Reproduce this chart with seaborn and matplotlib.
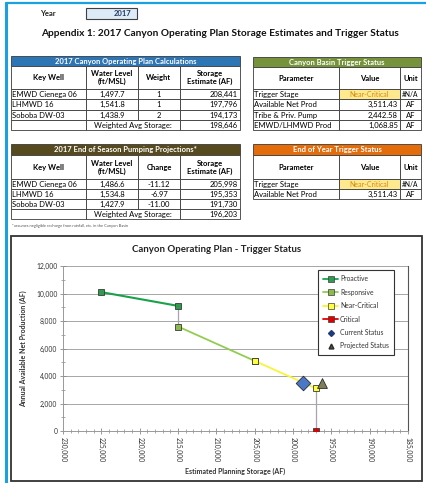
import matplotlib
matplotlib.use("Agg")
import matplotlib.pyplot as plt
import seaborn as sns
import pandas as pd
from matplotlib.patches import Rectangle
from matplotlib.lines import Line2D
from matplotlib.ticker import MultipleLocator, FixedLocator

# ---------------- data ----------------
year = "2017"
title_text = "Appendix 1: 2017 Canyon Operating Plan Storage Estimates and Trigger Status"

calc_wells = ["EMWD Cienega 06", "LHMWD 16", "Soboba DW-03"]
calc_levels = ["1,497.7", "1,541.8", "1,438.9"]
calc_weights = ["1", "1", "2"]
calc_storage = ["208,441", "197,796", "194,173"]
calc_avg = "198,646"

proj_levels = ["1,486.6", "1,534.8", "1,427.9"]
proj_change = ["-11.12", "-6.97", "-11.00"]
proj_storage = ["205,998", "195,353", "191,730"]
proj_avg = "196,203"

basin_params = ["Trigger Stage", "Available Net Prod", "Tribe & Priv. Pump", "EMWD/LHMWD Prod"]
basin_values = ["Near-Critical", "3,511.43", "2,442.58", "1,068.85"]
basin_units = ["#N/A", "AF", "AF", "AF"]

eoy_params = ["Trigger Stage", "Available Net Prod"]
eoy_values = ["Near-Critical", "3,511.43"]
eoy_units = ["#N/A", "AF"]

stages = ["Proactive", "Responsive", "Near-Critical", "Critical"]
stage_storage = [[225000, 215000], [215000, 205000], [205000, 197000], [197000]]
stage_production = [[10100, 9100], [7600, 5100], [5100, 3100], [0]]
connector_storage = [[215000, 215000], [197000, 197000]]
connector_production = [[9100, 7600], [3100, 0]]
current_storage = [198646]
current_production = [3511.43]
projected_storage = [196203]
projected_production = [3511.43]

x_ticks = [230000, 225000, 220000, 215000, 210000, 205000, 200000, 195000, 190000, 185000]
y_ticks = [0, 2000, 4000, 6000, 8000, 10000, 12000]
x_tick_labels = [f"{v:,}" for v in x_ticks]
y_tick_labels = [f"{v:,}" for v in y_ticks]

# ---------------- style ----------------
sns.set_theme(style="white")
plt.rcParams["font.family"] = ["Lato", "DejaVu Sans"]

W, H = 427, 483
fig = plt.figure(figsize=(W / 100, H / 100), dpi=100)
fig.patch.set_facecolor("white")

cv = fig.add_axes([0, 0, 1, 1])
cv.set_xlim(0, W)
cv.set_ylim(H, 0)
cv.axis("off")

BLUE = "#1BA1E2"
EDGE = "#3a3a3a"
FS = 5.5

# outer border
cv.add_line(Line2D([6, 6], [3, H], color=BLUE, lw=2.2))
cv.add_line(Line2D([6, W], [3, 3], color=BLUE, lw=1.6))

# Year box
cv.text(40, 13, "Year", fontsize=5.5, fontweight="bold", va="center", ha="left", color="#222222")
cv.add_patch(Rectangle((86, 7.5), 51, 11, facecolor="#DDEBF7", edgecolor="#404040", lw=0.8))
cv.text(131, 13, year, fontsize=5.5, fontweight="bold", va="center", ha="right", color="#1F3864")

cv.text(220, 33, title_text, fontsize=7.3, fontweight="bold", ha="center", va="center", color="#111111")


def cell(x0, x1, y0, y1, text="", ha="center", fill="white", color="black", bold=False, fs=FS):
    cv.add_patch(Rectangle((x0, y0), x1 - x0, y1 - y0, facecolor=fill, edgecolor=EDGE, lw=0.6))
    if text:
        if ha == "center":
            tx = (x0 + x1) / 2
        elif ha == "left":
            tx = x0 + 1.2
        else:
            tx = x1 - 2
        cv.text(tx, (y0 + y1) / 2 + 0.3, text, fontsize=fs, ha=ha, va="center", color=color,
                fontweight="bold" if bold else "normal", linespacing=1.15)


def draw_table(xs, ys, title, hcolor, headers, rows, aligns, avg=None):
    cv.add_patch(Rectangle((xs[0], ys[0]), xs[-1] - xs[0], ys[1] - ys[0], facecolor=hcolor,
                           edgecolor=EDGE, lw=0.6))
    cv.text((xs[0] + xs[-1]) / 2, (ys[0] + ys[1]) / 2 + 0.3, title, fontsize=FS, color="white",
            fontweight="bold", ha="center", va="center")
    for j, h in enumerate(headers):
        cell(xs[j], xs[j + 1], ys[1], ys[2], h, bold=True)
    for i, row in enumerate(rows):
        for j, v in enumerate(row):
            fill = "white"
            color = "black"
            fs = FS
            ha = aligns[j]
            if v == "Near-Critical":
                fill = "#FFE98F"
                color = "#D98B10"
                fs = 5.0
                ha = "center"
            if v == "#N/A":
                fs = 4.8
            cell(xs[j], xs[j + 1], ys[2 + i], ys[3 + i], v, ha=ha, fill=fill, color=color, fs=fs)
    if avg is not None:
        i = len(rows)
        cell(xs[0], xs[1], ys[2 + i], ys[3 + i])
        cell(xs[1], xs[3], ys[2 + i], ys[3 + i], "Weighted Avg Storage:")
        cell(xs[3], xs[4], ys[2 + i], ys[3 + i], avg, ha="right")


left_cols = [11, 86, 138, 180, 240]
right_cols = [253, 339, 400, 421]

draw_table(left_cols, [56, 66, 89, 99.3, 109.6, 119.9, 130.2],
           "2017 Canyon Operating Plan Calculations", "#2E75B6",
           ["Key Well", "Water Level\n(ft/MSL)", "Weight", "Storage\nEstimate (AF)"],
           [list(r) for r in zip(calc_wells, calc_levels, calc_weights, calc_storage)],
           ["left", "center", "center", "right"], avg=calc_avg)

draw_table(right_cols, [57, 67, 89, 99.3, 109.6, 119.9, 130.2],
           "Canyon Basin Trigger Status", "#76933C",
           ["Parameter", "Value", "Unit"],
           [list(r) for r in zip(basin_params, basin_values, basin_units)],
           ["left", "right", "center"])

draw_table(left_cols, [144, 155, 179, 189, 199, 209, 219],
           "2017 End of Season Pumping Projections*", "#574A1E",
           ["Key Well", "Water Level\n(ft/MSL)", "Change", "Storage\nEstimate (AF)"],
           [list(r) for r in zip(calc_wells, proj_levels, proj_change, proj_storage)],
           ["left", "center", "center", "right"], avg=proj_avg)

draw_table(right_cols, [144, 155, 179, 189, 199],
           "End of Year Trigger Status", "#E46C0A",
           ["Parameter", "Value", "Unit"],
           [list(r) for r in zip(eoy_params, eoy_values, eoy_units)],
           ["left", "right", "center"])

cv.text(12, 225.5, "*assumes negligible recharge from rainfall, etc. in the Canyon Basin",
        fontsize=2.9, color="#555555", ha="left", va="center")

# chart box
cv.add_patch(Rectangle((11, 236), 411, 245, facecolor="white", edgecolor="#333333", lw=1.3))

# ---------------- chart ----------------
ax = fig.add_axes([63 / W, (H - 431) / H, 345 / W, 165 / H])
ax.set_facecolor("white")

line_colors = ["#18A24A", "#92CC52", "#F7F53A", "#E00000"]
marker_colors = ["#2E9B4E", "#8DBA4C", "#FFFF40", "#E00000"]
line_widths = [1.5, 1.3, 1.3, 1.3]

for xs_, ys_ in zip(connector_storage, connector_production):
    cdf = pd.DataFrame({"s": xs_, "p": ys_})
    sns.lineplot(data=cdf, x="s", y="p", ax=ax, color="#A7A3B5", lw=0.9, sort=False,
                 estimator=None, zorder=2)

for name, xs_, ys_, lc, mc, lw in zip(stages, stage_storage, stage_production, line_colors,
                                      marker_colors, line_widths):
    df = pd.DataFrame({"s": xs_, "p": ys_})
    sns.lineplot(data=df, x="s", y="p", ax=ax, color=lc, lw=lw, sort=False, estimator=None,
                 marker="s", markersize=5, markerfacecolor=mc, markeredgecolor="#3a3a3a",
                 markeredgewidth=0.6, zorder=3)

sns.scatterplot(x=current_storage, y=current_production, ax=ax, marker="D", s=55,
                color="#4A78C8", edgecolor="#2a2a2a", linewidth=0.6, zorder=5)
sns.scatterplot(x=projected_storage, y=projected_production, ax=ax, marker="^", s=50,
                color="#7E7E58", edgecolor="#2a2a2a", linewidth=0.6, zorder=5)

ax.set_xlim(230000, 185000)
ax.set_ylim(0, 12000)
ax.xaxis.set_major_locator(FixedLocator(x_ticks))
ax.set_xticklabels(x_tick_labels, rotation=270, fontsize=4.9, color="#333333")
ax.yaxis.set_major_locator(FixedLocator(y_ticks))
ax.set_yticklabels(y_tick_labels, fontsize=4.9, color="#333333")
ax.xaxis.set_minor_locator(MultipleLocator(1000))
ax.yaxis.set_minor_locator(MultipleLocator(1000))
ax.tick_params(axis="both", which="major", direction="inout", length=4, width=0.6,
               colors="#888888", labelcolor="#333333", pad=2)
ax.tick_params(axis="both", which="minor", direction="inout", length=2.5, width=0.5,
               colors="#888888")
ax.tick_params(axis="x", which="both", bottom=True)
ax.tick_params(axis="y", which="both", left=True)
ax.grid(axis="y", color="#A6A6A6", lw=0.7)
ax.grid(axis="x", visible=False)
for side in ["left", "bottom"]:
    ax.spines[side].set_color("#999999")
    ax.spines[side].set_linewidth(0.7)
for side in ["top", "right"]:
    ax.spines[side].set_color("#555555")
    ax.spines[side].set_linewidth(0.8)
ax.spines["top"].set_visible(False)

ax.set_xlabel("Estimated Planning Storage (AF)", fontsize=5.0, fontweight="bold", color="#333333")
ax.set_ylabel("Annual Available Net Production (AF)", fontsize=5.0, fontweight="bold",
              color="#333333")
ax.xaxis.set_label_coords(0.5, -0.225)
ax.yaxis.set_label_coords(-0.105, 0.5)
fig.text(217 / W, 1 - 250 / H, "Canyon Operating Plan - Trigger Status", fontsize=6.9,
         fontweight="bold", ha="center", va="center", color="#222222")

handles = []
for name, lc, mc in zip(stages, line_colors, marker_colors):
    handles.append(Line2D([], [], color=lc, lw=1.3, marker="s", markersize=4,
                          markerfacecolor=mc, markeredgecolor="#3a3a3a", markeredgewidth=0.5,
                          label=name))
handles.append(Line2D([], [], color="none", marker="D", markersize=3, markerfacecolor="#1F3A7A",
                      markeredgecolor="#1F3A7A", label="Current Status"))
handles.append(Line2D([], [], color="none", marker="^", markersize=3.5, markerfacecolor="#55553A",
                      markeredgecolor="#2a2a2a", label="Projected Status"))
leg = ax.legend(handles=handles, loc="upper left", bbox_to_anchor=(318 / W, 1 - 270 / H),
                bbox_transform=fig.transFigure, borderaxespad=0, fontsize=4.9, frameon=True,
                fancybox=False, edgecolor="#333333", handlelength=2.2, handletextpad=0.3,
                labelspacing=0.95, borderpad=0.75, framealpha=1)
leg.get_frame().set_linewidth(0.8)
for t in leg.get_texts():
    t.set_color("#333333")

fig.savefig("out.png", dpi=100, facecolor="white")
